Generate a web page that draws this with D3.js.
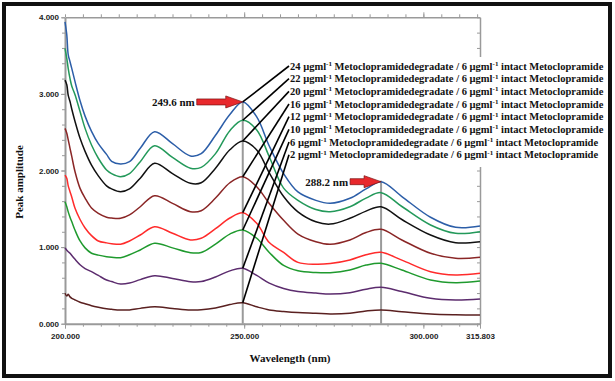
<!DOCTYPE html>
<html><head><meta charset="utf-8">
<script src="https://cdn.jsdelivr.net/npm/d3@7"></script>
<style>body{margin:0;background:#fff;}svg{display:block;}</style>
</head><body>
<svg id="c" width="615" height="381"></svg>
<script>
const wavelengths = [200, 200.5, 200.9, 201.4, 201.9, 202.8, 204.2, 205.6, 207.4, 209.3, 211.6, 213, 215.5, 218, 221, 225, 230, 235, 238, 242, 246, 249.6, 253.5, 257, 261, 265, 270, 274, 279.5, 284, 288.2, 294, 302, 309, 315.8];
const s24 = [3.94, 3.77, 3.51, 3.42, 3.33, 3.16, 2.91, 2.71, 2.51, 2.35, 2.21, 2.12, 2.085, 2.115, 2.29, 2.507, 2.35, 2.19, 2.22, 2.46, 2.73, 2.895, 2.70, 2.32, 1.96, 1.72, 1.61, 1.572, 1.637, 1.76, 1.854, 1.66, 1.39, 1.258, 1.275];
const s22 = [3.595, 3.465, 3.33, 3.20, 3.10, 2.99, 2.77, 2.55, 2.333, 2.16, 2.007, 1.96, 1.92, 1.96, 2.115, 2.324, 2.17, 2.03, 2.04, 2.22, 2.52, 2.656, 2.53, 2.18, 1.77, 1.61, 1.49, 1.462, 1.527, 1.64, 1.711, 1.53, 1.289, 1.18, 1.201];
const s20 = [3.18, 3.12, 2.98, 2.90, 2.80, 2.64, 2.42, 2.25, 2.07, 1.93, 1.80, 1.76, 1.723, 1.76, 1.90, 2.094, 1.96, 1.833, 1.84, 2.03, 2.27, 2.385, 2.268, 1.97, 1.66, 1.46, 1.33, 1.30, 1.376, 1.47, 1.527, 1.36, 1.158, 1.057, 1.07];
const s16 = [2.55, 2.486, 2.40, 2.29, 2.18, 1.984, 1.767, 1.64, 1.51, 1.44, 1.39, 1.38, 1.376, 1.42, 1.527, 1.671, 1.57, 1.462, 1.475, 1.64, 1.84, 1.919, 1.788, 1.57, 1.35, 1.17, 1.07, 1.037, 1.093, 1.19, 1.232, 1.093, 0.919, 0.854, 0.867];
const s12 = [1.94, 1.898, 1.80, 1.723, 1.65, 1.506, 1.36, 1.25, 1.15, 1.08, 1.055, 1.045, 1.037, 1.08, 1.158, 1.266, 1.18, 1.093, 1.115, 1.24, 1.38, 1.449, 1.31, 1.06, 0.93, 0.80, 0.775, 0.785, 0.832, 0.90, 0.932, 0.83, 0.679, 0.636, 0.658];
const s10 = [1.593, 1.527, 1.46, 1.39, 1.33, 1.22, 1.08, 0.99, 0.92, 0.895, 0.875, 0.868, 0.862, 0.90, 0.962, 1.05, 0.99, 0.927, 0.93, 1.04, 1.17, 1.223, 1.115, 0.93, 0.76, 0.69, 0.668, 0.666, 0.701, 0.765, 0.789, 0.70, 0.571, 0.535, 0.557];
const s6 = [0.99, 0.96, 0.94, 0.92, 0.89, 0.84, 0.77, 0.72, 0.68, 0.63, 0.57, 0.55, 0.518, 0.53, 0.575, 0.627, 0.59, 0.548, 0.55, 0.61, 0.69, 0.723, 0.63, 0.53, 0.46, 0.42, 0.40, 0.388, 0.405, 0.45, 0.475, 0.42, 0.332, 0.309, 0.322];
const s2 = [0.397, 0.362, 0.384, 0.35, 0.332, 0.31, 0.28, 0.26, 0.235, 0.215, 0.195, 0.188, 0.179, 0.18, 0.20, 0.222, 0.20, 0.18, 0.182, 0.205, 0.25, 0.274, 0.22, 0.18, 0.16, 0.145, 0.136, 0.127, 0.136, 0.165, 0.179, 0.157, 0.127, 0.117, 0.114];
const concentrations = [24, 22, 20, 16, 12, 10, 6, 2];
const seriesValues = [s24, s22, s20, s16, s12, s10, s6, s2];
const colors = ["#2c5ea8", "#23995a", "#111111", "#8a2626", "#ff2b2b", "#1f9a2e", "#5c2c6e", "#5a2020"];
const peakWavelengths = [249.6, 288.2];
const peakLabels = ["249.6 nm", "288.2 nm"];
const yMajorTicks = [0, 1, 2, 3, 4];
const xMajorTicks = [200, 250, 300, 315.803];
const xDomain = [200, 315.803];
const yDomain = [0, 4];

const svg = d3.select("#c");
const x = d3.scaleLinear().domain(xDomain).range([65, 480]);
const y = d3.scaleLinear().domain(yDomain).range([323.7, 17.3]);
const grey = "#9a9a9a";
const fmt = d3.format(".3f");

// frame
svg.append("rect").attr("x", 4).attr("y", 4).attr("width", 606).attr("height", 372)
  .attr("fill", "none").attr("stroke", "#111").attr("stroke-width", 4);

function styleAxis(g) {
  g.select(".domain").attr("stroke", grey).attr("stroke-width", 2);
  g.selectAll(".tick line").attr("stroke", grey).attr("stroke-width", 1);
  g.selectAll(".tick text").attr("fill", "#222").style("font-family", "Arial, 'Liberation Sans', sans-serif")
    .style("font-size", "8px").style("font-weight", "bold");
}
const minorX = d3.range(200, 316, 5);
const minorY = d3.range(0, 4.0001, 0.2);

// bottom
let g = svg.append("g").attr("transform", `translate(0,${y(0)})`)
  .call(d3.axisBottom(x).tickValues(minorX).tickFormat("").tickSize(3).tickSizeOuter(0));
styleAxis(g);
g = svg.append("g").attr("transform", `translate(0,${y(0)})`)
  .call(d3.axisBottom(x).tickValues(xMajorTicks).tickFormat(fmt).tickSize(5).tickPadding(5).tickSizeOuter(0));
styleAxis(g); g.select(".domain").remove();
// top
g = svg.append("g").attr("transform", `translate(0,${y(4)})`)
  .call(d3.axisTop(x).tickValues(minorX).tickFormat("").tickSize(3).tickSizeOuter(0));
styleAxis(g); g.select(".domain").attr("stroke-width", 1.5);
g = svg.append("g").attr("transform", `translate(0,${y(4)})`)
  .call(d3.axisTop(x).tickValues([250, 300]).tickFormat("").tickSize(5).tickSizeOuter(0));
styleAxis(g); g.select(".domain").remove();
// right
g = svg.append("g").attr("transform", `translate(${x(315.803)},0)`)
  .call(d3.axisLeft(y).tickValues(minorY).tickFormat("").tickSize(3).tickSizeOuter(0));
styleAxis(g); g.select(".domain").attr("stroke-width", 1.5);
// left
g = svg.append("g").attr("transform", `translate(${x(200)},0)`)
  .call(d3.axisLeft(y).tickValues(minorY).tickFormat("").tickSize(3).tickSizeOuter(0));
styleAxis(g);
g = svg.append("g").attr("transform", `translate(${x(200)},0)`)
  .call(d3.axisLeft(y).tickValues(yMajorTicks).tickFormat(fmt).tickSize(4).tickPadding(2).tickSizeOuter(0));
styleAxis(g); g.select(".domain").remove();

// legend background (hides right axis)
svg.append("rect").attr("x", 285).attr("y", 57).attr("width", 321).attr("height", 110).attr("fill", "#fff");

// vertical peak lines
const peakTop = [s24[wavelengths.indexOf(249.6)], s24[wavelengths.indexOf(288.2)]];
peakWavelengths.forEach((w, i) => {
  svg.append("line").attr("x1", x(w)).attr("x2", x(w)).attr("y1", y(0)).attr("y2", y(peakTop[i]) - 1)
    .attr("stroke", grey).attr("stroke-width", 2);
});

// curves
const line = d3.line().x(d => x(d[0])).y(d => y(d[1])).curve(d3.curveCatmullRom.alpha(0.5));
seriesValues.forEach((vals, i) => {
  svg.append("path").datum(wavelengths.map((w, j) => [w, vals[j]]))
    .attr("d", line).attr("fill", "none").attr("stroke", colors[i]).attr("stroke-width", 1.5);
});

// legend text + leader lines
const serif = "'Liberation Serif', 'Times New Roman', serif";
const pIdx = wavelengths.indexOf(249.6);
concentrations.forEach((c, i) => {
  const ty = 66 + i * 12.67;
  svg.append("line").attr("x1", 289).attr("y1", ty).attr("x2", x(249.6)).attr("y2", y(seriesValues[i][pIdx]))
    .attr("stroke", "#000").attr("stroke-width", 1.6);
  const t = svg.append("text").attr("x", 290).attr("y", ty + 3.5)
    .style("font-family", serif).style("font-weight", "bold").style("font-size", "10.5px").attr("fill", "#111");
  t.append("tspan").text(`${c} µgml`);
  t.append("tspan").attr("dy", -3.5).style("font-size", "7px").text("-1");
  t.append("tspan").attr("dy", 3.5).text(" Metoclopramidedegradate / 6 µgml");
  t.append("tspan").attr("dy", -3.5).style("font-size", "7px").text("-1");
  t.append("tspan").attr("dy", 3.5).text(" intact Metoclopramide");
});

// peak arrows & labels
const arrowSpecs = [{w: 249.6, v: s24[pIdx], len: 46}, {w: 288.2, v: s24[wavelengths.indexOf(288.2)], len: 31}];
arrowSpecs.forEach((a, i) => {
  const tx = x(a.w), ty = y(a.v);
  const sx = tx - a.len;
  const head = 17;
  const p = `M${sx},${ty - 3} L${tx - head},${ty - 3} L${tx - head},${ty - 6} L${tx},${ty} L${tx - head},${ty + 6} L${tx - head},${ty + 3} L${sx},${ty + 3} Z`;
  svg.append("path").attr("d", p).attr("fill", "#e8282c").attr("stroke", "#7a1010").attr("stroke-width", 0.7);
  svg.append("text").attr("x", sx - 2).attr("y", ty + 4).attr("text-anchor", "end")
    .style("font-family", serif).style("font-weight", "bold").style("font-size", "11px").attr("fill", "#111")
    .text(peakLabels[i]);
});

// axis titles
svg.append("text").attr("x", 290).attr("y", 362).attr("text-anchor", "middle")
  .style("font-family", serif).style("font-weight", "bold").style("font-size", "11px").attr("fill", "#111")
  .text("Wavelength (nm)");
svg.append("text").attr("transform", "translate(23,182) rotate(-90)").attr("text-anchor", "middle")
  .style("font-family", serif).style("font-weight", "bold").style("font-size", "11px").attr("fill", "#111")
  .text("Peak amplitude");
</script>
</body></html>
